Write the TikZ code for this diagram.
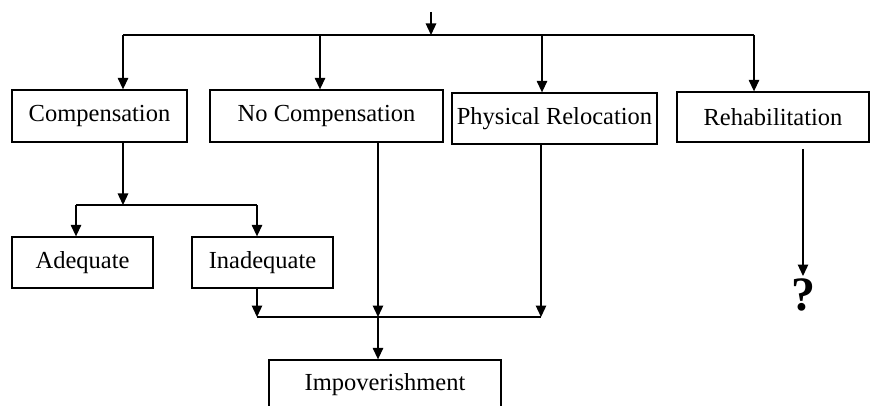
\documentclass[tikz,border=0pt]{standalone}
\usepackage{fontspec}
\setmainfont{Liberation Serif}
\usetikzlibrary{arrows.meta}
\begin{document}
\begin{tikzpicture}[x=1pt,y=-1pt,
  box/.style={draw,line width=1.3pt,inner sep=0pt,font=\fontsize{24.5}{28}\selectfont},
  arr/.style={line width=1.3pt,-{Triangle[width=10.5pt,length=11.5pt]}},
  ln/.style={line width=1.3pt}]
\useasboundingbox (0,0) rectangle (872,406);
\clip (0,0) rectangle (872,406);
% boxes
\node[box,minimum width=175pt,minimum height=52pt] (comp) at (99.5,116) {Compensation};
\node[box,minimum width=233pt,minimum height=52pt] (nocomp) at (326.5,116) {No Compensation};
\node[box,minimum width=205pt,minimum height=51pt] (phys) at (554.5,118.5) {Physical Relocation};
\node[box,minimum width=192pt,minimum height=50pt] (rehab) at (773,117) {Rehabilitation};
\node[box,minimum width=141pt,minimum height=51pt] (adeq) at (82.5,262.5) {Adequate};
\node[box,minimum width=141pt,minimum height=51pt] (inadeq) at (262.5,262.5) {Inadequate};
\node[box,minimum width=232pt,minimum height=50pt] (impov) at (385,385) {Impoverishment};
\node[anchor=north,inner sep=0pt,font=\fontsize{48}{52}\selectfont\bfseries] (q) at (803,279) {?};
% coordinates
\coordinate (top) at (431,12);
\coordinate (bus) at (431,35);
\coordinate (b1) at (123,35);
\coordinate (b2) at (320,35);
\coordinate (b3) at (542,35);
\coordinate (b4) at (754,35);
\coordinate (c1) at (123,205);
\coordinate (a1) at (76,205);
\coordinate (a2) at (257,205);
\coordinate (m1) at (257,317);
\coordinate (m2) at (378,317);
\coordinate (m3) at (541,317);
\coordinate (r1) at (803,149);
% connectors
\draw[arr] (top) -- (bus);
\draw[ln] (b1) -- (b4);
\draw[arr] (b1) -- (b1 |- comp.north);
\draw[arr] (b2) -- (b2 |- nocomp.north);
\draw[arr] (b3) -- (b3 |- phys.north);
\draw[arr] (b4) -- (b4 |- rehab.north);
\draw[arr] (c1 |- comp.south) -- (c1);
\draw[ln] (a1) -- (a2);
\draw[arr] (a1) -- (a1 |- adeq.north);
\draw[arr] (a2) -- (a2 |- inadeq.north);
\draw[arr] (m1 |- inadeq.south) -- (m1);
\draw[ln] (m1) -- (m3);
\draw[arr] (m2 |- nocomp.south) -- (m2);
\draw[arr] (m3 |- phys.south) -- (m3);
\draw[arr] (m2) -- (m2 |- impov.north);
\draw[arr,shorten >=3pt] (r1) -- (q.north);
\end{tikzpicture}
\end{document}
